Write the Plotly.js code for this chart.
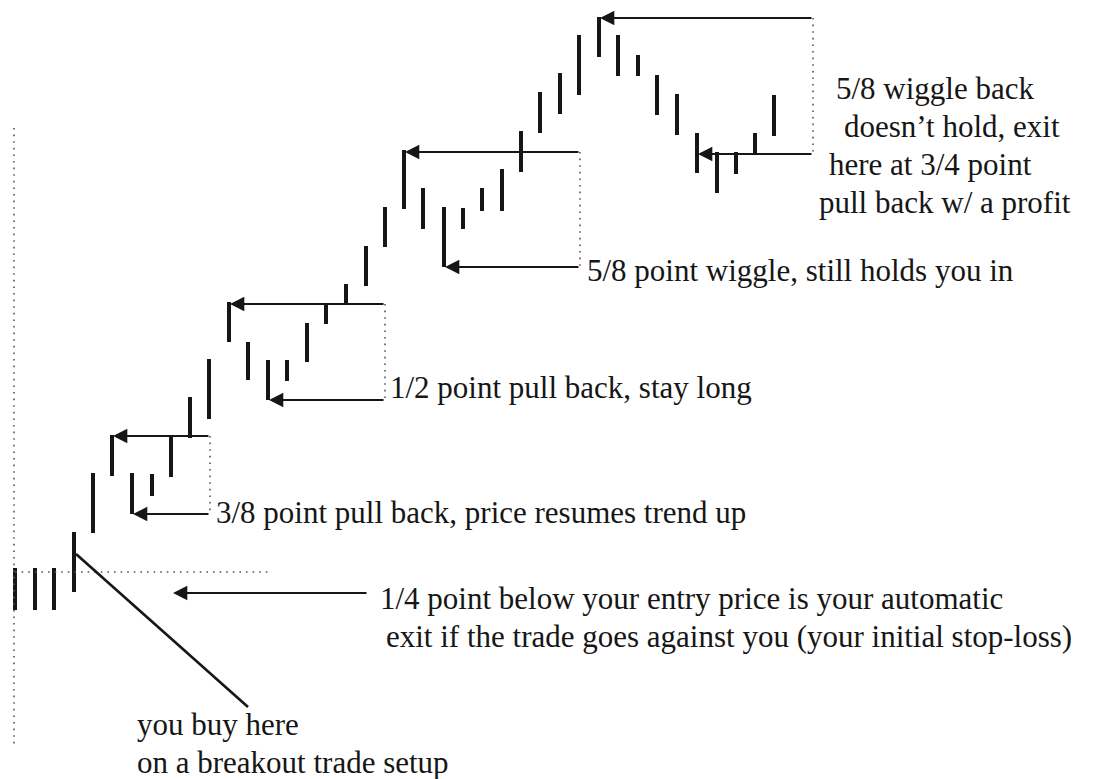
<!DOCTYPE html>
<html>
<head>
<meta charset="utf-8">
<script src="https://cdn.plot.ly/plotly-3.0.1.min.js"></script>
<style>html,body{margin:0;padding:0;background:#fff;}#chart{width:1104px;height:779px;}</style>
</head>
<body>
<div id="chart"></div>
<script>
// Price bars (chart units; smaller value = higher price on this reversed scale)
const barX    = [15, 35, 54, 74, 93, 112, 132, 152, 171, 190, 209, 229, 248, 268, 287, 307, 326, 346, 366, 385, 404, 423, 444, 463, 482, 502, 521, 540, 560, 579, 599, 618, 638, 657, 677, 697, 717, 736, 755, 774];
const barHigh = [568, 568, 568, 532, 473, 435, 473, 474, 435, 397, 359, 302, 342, 360, 360, 323, 303, 284, 246, 207, 150, 188, 207, 208, 188, 169, 131, 92, 73, 35, 17, 35, 55, 75, 94, 133, 152, 152, 133, 95];
const barLow  = [610, 610, 610, 592, 533, 476, 514, 496, 477, 438, 419, 342, 380, 400, 381, 362, 324, 305, 286, 247, 209, 229, 267, 229, 211, 211, 172, 133, 114, 95, 57, 76, 76, 115, 135, 173, 193, 174, 155, 136];

// Pull-back marker arrows: level, arrow tip (bar) and tail (bracket edge)
const arrowLevel = [436, 514, 304, 400, 152, 267, 18, 154, 593];
const arrowTipX  = [113, 133, 230, 269, 405, 445, 600, 698, 173];
const arrowTailX = [210, 210, 385, 385, 580, 580, 813, 813, 368];

// Dotted brackets joining each pair of arrows
const bracketX    = [210, 385, 580, 813];
const bracketTop  = [436, 304, 152, 18];
const bracketBot  = [514, 400, 267, 154];

// Entry reference lines
const entryLevel = 572;
const entryLineX = [15, 268];
const leftAxisX = 14;
const leftAxisSpan = [128, 748];
const pointerStart = [76, 554];
const pointerEnd = [248, 707];

const ink = '#161616';
const traces = [];

// bars
const bx = [], by = [];
barX.forEach((x, i) => { bx.push(x, x, null); by.push(barHigh[i], barLow[i], null); });
traces.push({x: bx, y: by, mode: 'lines', line: {color: ink, width: 4}, hoverinfo: 'skip', showlegend: false});

// brackets (dotted)
const dx = [], dy = [];
bracketX.forEach((x, i) => { dx.push(x, x, null); dy.push(bracketTop[i], bracketBot[i], null); });
dx.push(entryLineX[0], entryLineX[1], null); dy.push(entryLevel, entryLevel, null);
dx.push(leftAxisX, leftAxisX, null); dy.push(leftAxisSpan[0], leftAxisSpan[1], null);
traces.push({x: dx, y: dy, mode: 'lines', line: {color: '#555', width: 1.6, dash: '1.6px,5px'}, hoverinfo: 'skip', showlegend: false});

// pointer line to entry bar
traces.push({x: [pointerStart[0], pointerEnd[0]], y: [pointerStart[1], pointerEnd[1]], mode: 'lines', line: {color: ink, width: 2.6}, hoverinfo: 'skip', showlegend: false});

const annotations = [];
arrowLevel.forEach((lv, i) => {
  annotations.push({x: arrowTipX[i], y: lv, ax: arrowTailX[i], ay: lv, xref: 'x', yref: 'y', axref: 'x', ayref: 'y',
    text: '', showarrow: true, arrowhead: 2, arrowsize: 1.3, arrowwidth: 2.2, arrowcolor: ink, standoff: 0, startstandoff: 0});
});

const labelFont = {family: '"Liberation Serif", "Times New Roman", serif', size: 31, color: ink};
function label(t, x, y) {
  annotations.push({text: t, x: x, y: y, xref: 'x', yref: 'y', xanchor: 'left', yanchor: 'middle', showarrow: false, font: labelFont});
}
label('5/8 wiggle back', 834, 88);
label('doesn’t hold, exit', 842, 126);
label('here at 3/4 point', 827, 164);
label('pull back w/ a profit', 817, 202);
label('5/8 point wiggle, still holds you in', 585, 270);
label('1/2 point pull back, stay long', 388, 387);
label('3/8 point pull back, price resumes trend up', 214, 512);
label('1/4 point below your entry price is your automatic', 378, 598);
label('exit if the trade goes against you (your initial stop-loss)', 384, 636);
label('you buy here', 135, 724);
label('on a breakout trade setup', 135, 762);

const layout = {
  width: 1104, height: 779,
  margin: {l: 0, r: 0, t: 0, b: 0},
  paper_bgcolor: '#fff', plot_bgcolor: '#fff',
  xaxis: {range: [0, 1104], visible: false, fixedrange: true},
  yaxis: {range: [779, 0], visible: false, fixedrange: true},
  annotations: annotations,
  showlegend: false
};
Plotly.newPlot('chart', traces, layout, {staticPlot: true, displayModeBar: false});
</script>
</body>
</html>
